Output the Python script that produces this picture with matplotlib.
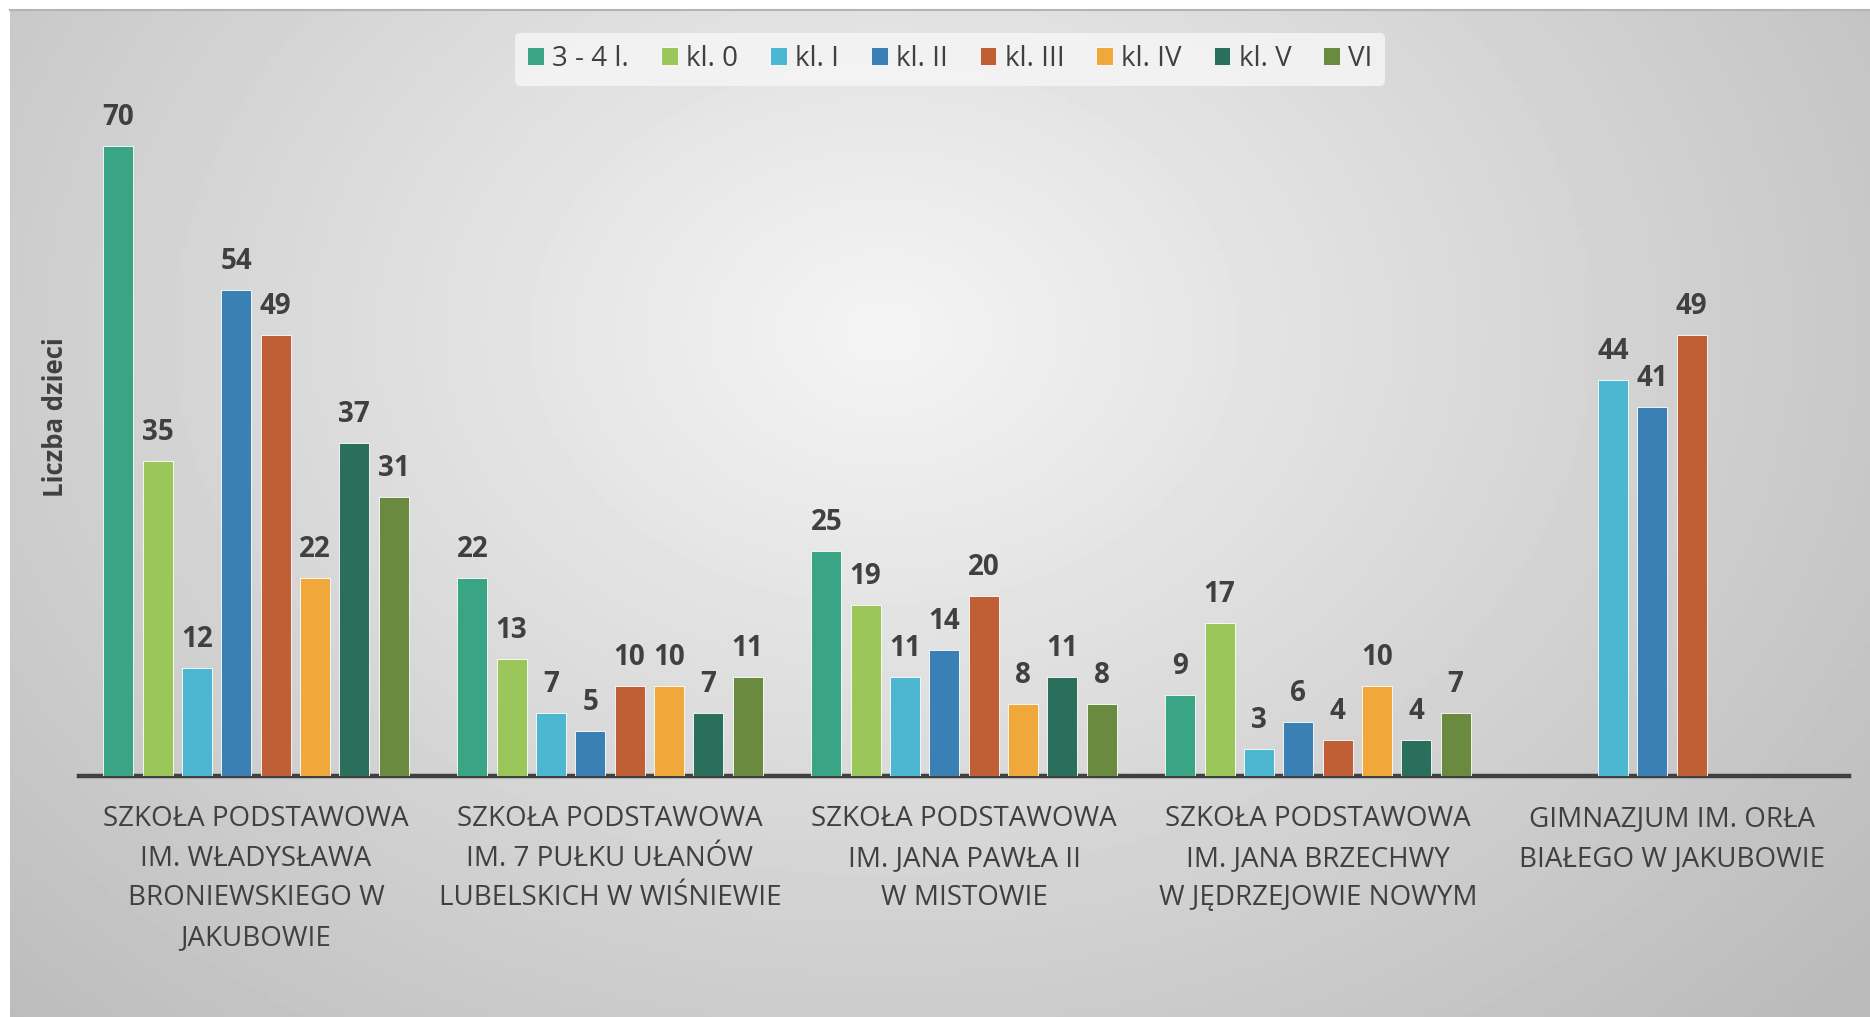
import matplotlib.pyplot as plt
import numpy as np

plt.rcParams['font.family'] = ['Open Sans', 'DejaVu Sans']

# categories (schools)
schools = [
    "SZKOŁA PODSTAWOWA\nIM. WŁADYSŁAWA\nBRONIEWSKIEGO W\nJAKUBOWIE",
    "SZKOŁA PODSTAWOWA\nIM. 7 PUŁKU UŁANÓW\nLUBELSKICH W WIŚNIEWIE",
    "SZKOŁA PODSTAWOWA\nIM. JANA PAWŁA II\nW MISTOWIE",
    "SZKOŁA PODSTAWOWA\nIM. JANA BRZECHWY\nW JĘDRZEJOWIE NOWYM",
    "GIMNAZJUM IM. ORŁA\nBIAŁEGO W JAKUBOWIE",
]

series_names = ["3 - 4 l.", "kl. 0", "kl. I", "kl. II", "kl. III", "kl. IV", "kl. V", "VI"]
nan = np.nan
v_34 = [70, 22, 25, 9, nan]
v_k0 = [35, 13, 19, 17, nan]
v_k1 = [12, 7, 11, 3, 44]
v_k2 = [54, 5, 14, 6, 41]
v_k3 = [49, 10, 20, 4, 49]
v_k4 = [22, 10, 8, 10, nan]
v_k5 = [37, 7, 11, 4, nan]
v_k6 = [31, 11, 8, 7, nan]
values = [v_34, v_k0, v_k1, v_k2, v_k3, v_k4, v_k5, v_k6]

colors = ["#3aa584", "#9bc65a", "#4db6d0", "#3a80b5",
          "#c05f35", "#f0a83a", "#2a6e5c", "#6a8a40"]

W, H = 1870, 1017
fig = plt.figure(figsize=(W / 100, H / 100), dpi=100)
fig.patch.set_facecolor('white')

# gradient background of the chart area
bg = fig.add_axes([10 / W, 0, 1 - 10 / W, 1 - 10 / H], zorder=-5)
gx, gy = np.meshgrid(np.linspace(0, 1, 400), np.linspace(0, 1, 300))
d = np.sqrt(((gx - 0.47) / 0.6) ** 2 + ((gy - 0.32) / 0.85) ** 2)
shade = np.clip(244 - 50 * d, 186, 244) / 255
bg.imshow(shade, cmap='gray', vmin=0, vmax=1, extent=[0, 1, 1, 0], aspect='auto')
bg.set_xlim(0, 1)
bg.set_ylim(1, 0)
bg.axis('off')
fig.add_artist(plt.Line2D([10 / W, 1], [1 - 10 / H, 1 - 10 / H], color='#b4b4b4', lw=1.5))

ax = fig.add_axes([79 / W, (H - 776) / H, (1849 - 79) / W, (776 - 101) / H])
ax.patch.set_alpha(0)

x = np.arange(len(schools))
slot = 1 / 9
bw = slot * 0.76
for i, (name, vals, c) in enumerate(zip(series_names, values, colors)):
    pos = x + (i - 3.5) * slot
    ax.bar(pos, vals, width=bw, color=c, edgecolor='#ffffff', linewidth=0.6,
           label=name, zorder=3)
    for xp, v in zip(pos, vals):
        if not np.isnan(v):
            ax.annotate(f"{v:g}", (xp, v), xytext=(0, 10), textcoords='offset points',
                        ha='center', va='bottom', fontsize=20, fontweight='bold',
                        color='#404040')

ax.set_xlim(-0.5, len(schools) - 0.5)
ax.set_ylim(0, 75)
ax.set_yticks([])
for s in ['top', 'right', 'left']:
    ax.spines[s].set_visible(False)
ax.spines['bottom'].set_color('#404040')
ax.spines['bottom'].set_linewidth(3.2)
ax.set_xticks(x)
ax.set_xticklabels(schools, fontsize=20, color='#404040', linespacing=1.55)
ax.tick_params(axis='x', length=0, pad=21)

fig.text(56 / W, 1 - 417 / H, "Liczba dzieci", rotation=90, ha='center', va='center',
         fontsize=18.5, fontweight='bold', color='#404040')

leg = fig.legend(loc='center', bbox_to_anchor=(950 / W, 1 - 59 / H), ncol=8,
                 fontsize=20, frameon=True, handlelength=0.6, handleheight=0.6,
                 handletextpad=0.3, columnspacing=1.15, borderpad=0.45)
leg.get_frame().set_facecolor('#f7f7f7')
leg.get_frame().set_edgecolor('none')
leg.get_frame().set_alpha(0.8)
for t in leg.get_texts():
    t.set_color('#404040')

fig.savefig('out.png', dpi=100)
